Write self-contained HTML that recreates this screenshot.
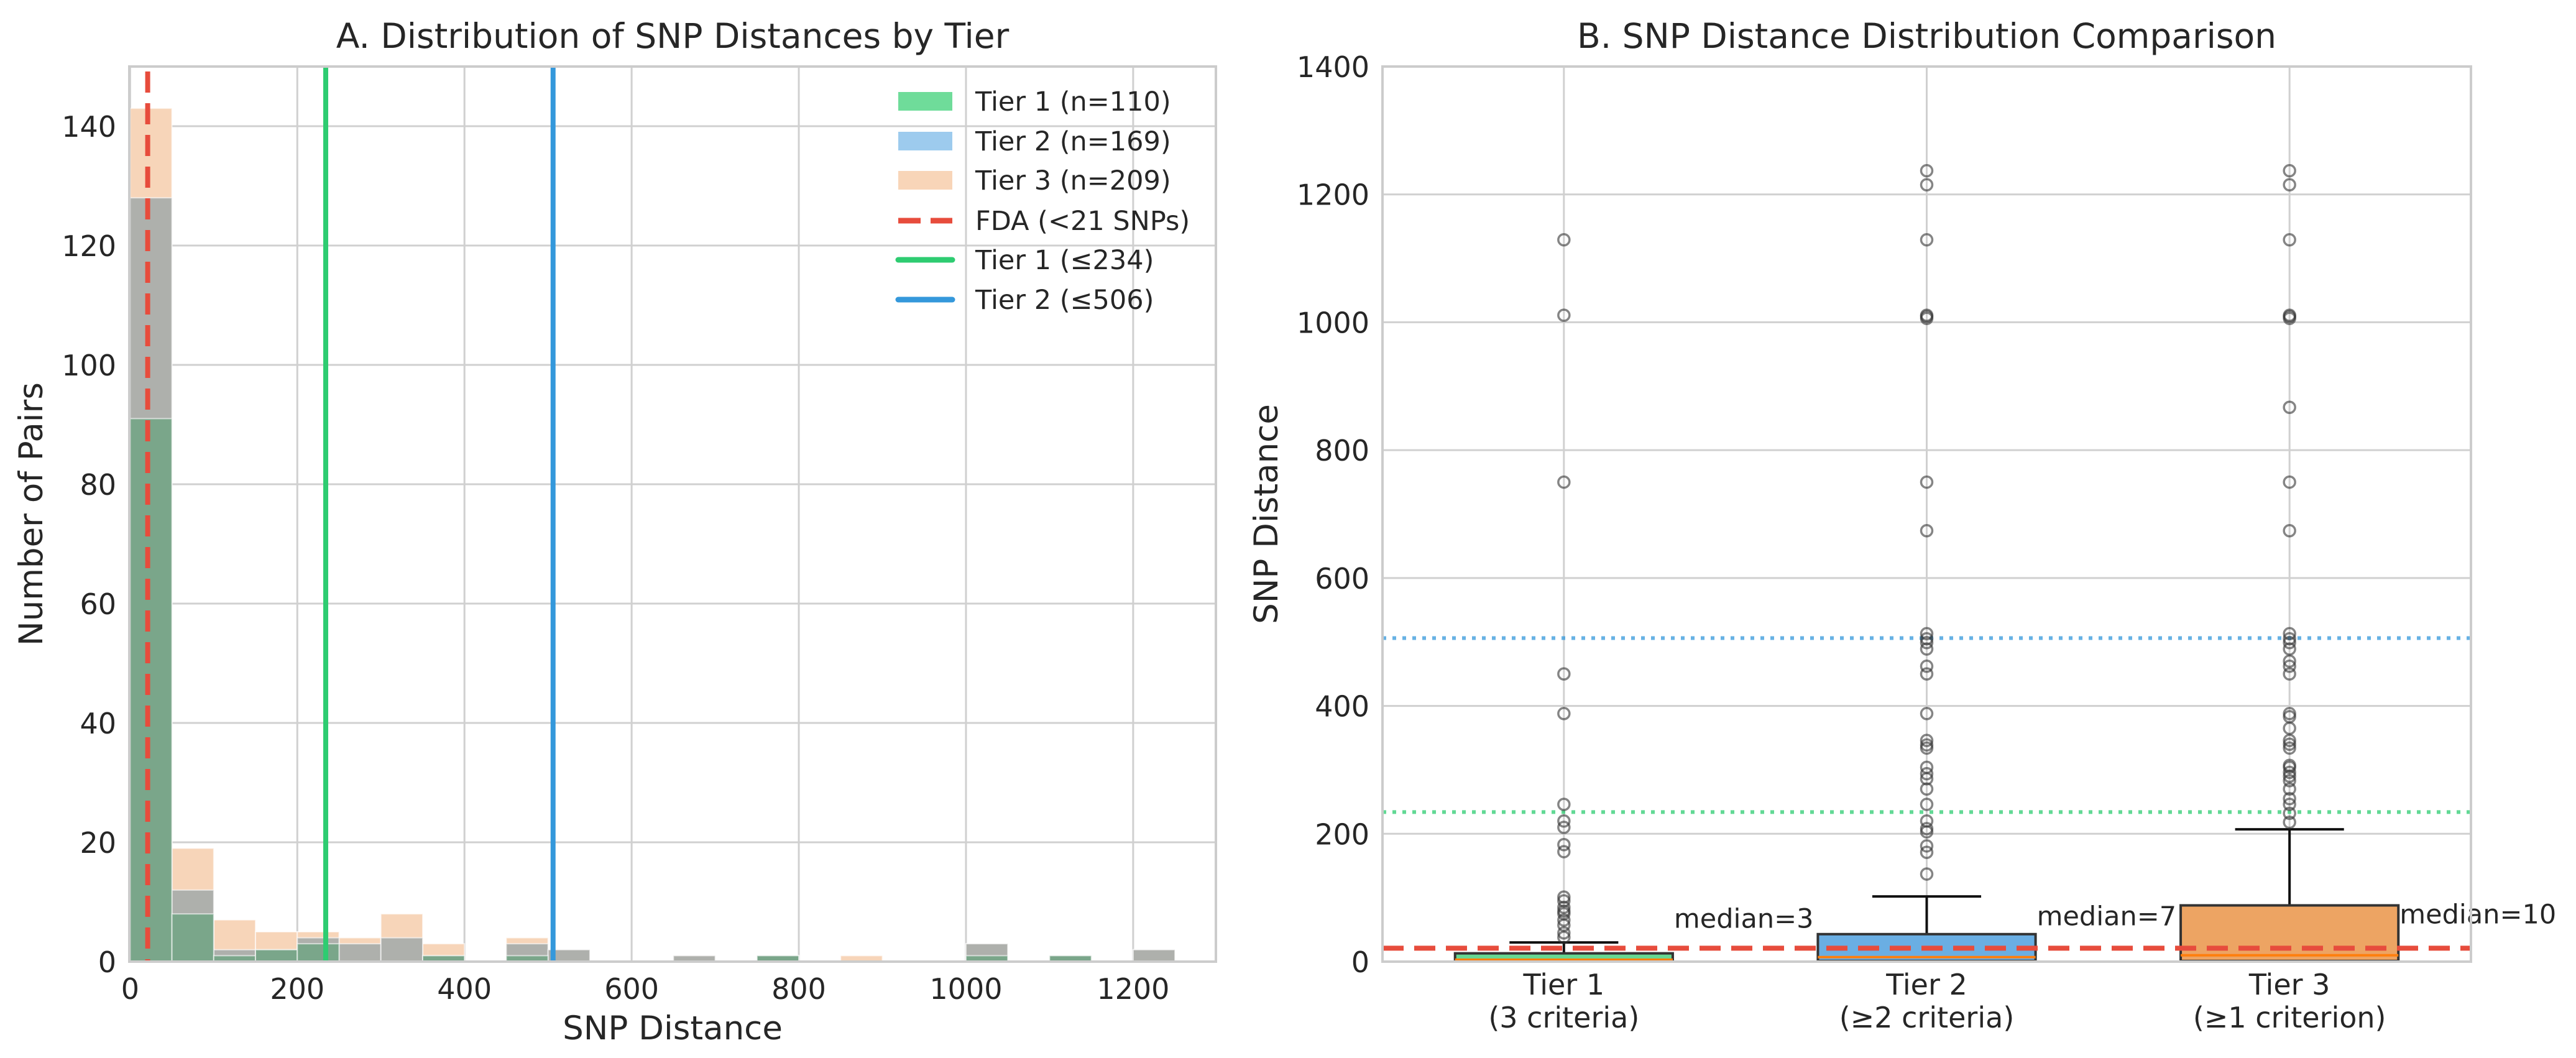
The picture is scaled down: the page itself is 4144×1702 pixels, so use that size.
<!DOCTYPE html>
<html><head><meta charset="utf-8"><style>
html,body{margin:0;padding:0;background:#fff;}
svg{display:block;font-family:"DejaVu Sans","Liberation Sans",sans-serif;}
</style></head><body>
<svg id="fig" width="4144" height="1702" viewBox="0 0 4144 1702" xmlns="http://www.w3.org/2000/svg">
<rect x="0" y="0" width="4144" height="1702" fill="#fff"/>
<g id="left"></g>
<g id="right"></g>
</svg>
<script>
// ---- Panel A data ----
const binStarts = [0,50,100,150,200,250,300,350,400,450,500,550,600,650,700,750,800,850,900,950,1000,1050,1100,1150,1200];
const binWidth = 50;
const tier1Counts = [91,8,1,2,3,0,0,1,0,1,0,0,0,0,0,1,0,0,0,0,1,0,1,0,0];
const tier2Counts = [128,12,2,2,4,3,4,1,0,3,2,0,0,1,0,1,0,0,0,0,3,0,1,0,2];
const tier3Counts = [143,19,7,5,5,4,8,3,0,4,2,0,0,1,0,1,0,1,0,0,3,0,1,0,2];
const histXTicks = [0,200,400,600,800,1000,1200];
const histYTicks = [0,20,40,60,80,100,120,140];
const fdaThreshold = 21;
const tier1Threshold = 234;
const tier2Threshold = 506;
// ---- Panel B data ----
const boxCategories = ["Tier 1","Tier 2","Tier 3"];
const boxSubLabels = ["(3 criteria)","(\u22652 criteria)","(\u22651 criterion)"];
const boxQ1 = [1,1,1];
const boxMedian = [3,7,10];
const boxQ3 = [13,43,88];
const boxWhiskerLow = [0,0,0];
const boxWhiskerHigh = [30,102,207];
const tier1Outliers = [1129,1011,750,450,388,246,220,210,183,172,101,95,85,79,75,65,57,45,38];
const tier2Outliers = [1237,1215,1129,1011,1009,1006,750,674,513,505,499,489,462,450,388,346,339,334,304,294,286,270,246,220,208,203,181,171,137];
const tier3Outliers = [1237,1215,1129,1011,1009,1006,867,750,674,513,505,499,489,470,462,450,388,383,365,346,340,334,307,304,296,290,283,270,255,246,232,218];
const boxYTicks = [0,200,400,600,800,1000,1200,1400];

const NS="http://www.w3.org/2000/svg";
function mk(parent,tag,attrs,text){const e=document.createElementNS(NS,tag);for(const k in attrs)e.setAttribute(k,attrs[k]);if(text!==undefined)e.textContent=text;parent.appendChild(e);return e;}

// ===== Panel A =====
(function(){
const g=document.getElementById('left');
const L=208,R=1956,T=107,B=1547, xmin=-1, xmax=1299, ymin=0, ymax=150;
const sx=v=>L+(v-xmin)/(xmax-xmin)*(R-L);
const sy=v=>B-(v-ymin)/(ymax-ymin)*(B-T);
// grid
histXTicks.forEach(t=>{const l=mk(g,'line',{x1:sx(t),x2:sx(t),y1:T,y2:B,stroke:'#d0d0d0','stroke-width':3});
});
histYTicks.forEach(t=>{const l=mk(g,'line',{x1:L,x2:R,y1:sy(t),y2:sy(t),stroke:'#d0d0d0','stroke-width':3});
});
// bars
const layers=[[tier3Counts,'#f7d5b9','tier3-bar'],[tier2Counts,'#aeb0ac','tier2-bar'],[tier1Counts,'#7aa68a','tier1-bar']];
layers.forEach(([arr,col,nm])=>{
 arr.forEach((c,i)=>{ if(c<=0) return;
  const x0=sx(binStarts[i]), x1=sx(binStarts[i]+binWidth);
  const r=mk(g,'rect',{x:x0,y:sy(c),width:x1-x0,height:sy(0)-sy(c),fill:col,stroke:'#fff','stroke-width':2,'stroke-opacity':0.6});
  
 });
});
// threshold lines
let l=mk(g,'line',{x1:sx(fdaThreshold),x2:sx(fdaThreshold),y1:T+8,y2:B,stroke:'#e74c3c','stroke-width':8,'stroke-dasharray':'34 17'});

l=mk(g,'line',{x1:sx(tier1Threshold),x2:sx(tier1Threshold),y1:T,y2:B,stroke:'#2ecc71','stroke-width':8});

l=mk(g,'line',{x1:sx(tier2Threshold),x2:sx(tier2Threshold),y1:T,y2:B,stroke:'#3498db','stroke-width':8});

// frame
const f=mk(g,'rect',{x:L,y:T,width:R-L,height:B-T,fill:'none',stroke:'#cccccc','stroke-width':4});

// tick labels
histXTicks.forEach(t=>{const e=mk(g,'text',{x:sx(t),y:1607,'font-size':46,'text-anchor':'middle',fill:'#262626'},String(t));
});
histYTicks.forEach(t=>{const e=mk(g,'text',{x:187,y:sy(t)+17,'font-size':46,'text-anchor':'end',fill:'#262626'},String(t));
});
let e=mk(g,'text',{x:(L+R)/2,y:1672,'font-size':53,'text-anchor':'middle',fill:'#262626'},'SNP Distance');

e=mk(g,'text',{x:0,y:0,'font-size':53,'text-anchor':'middle',fill:'#262626',transform:`translate(68 ${(T+B)/2}) rotate(-90)`},'Number of Pairs');

e=mk(g,'text',{x:(L+R)/2,y:77,'font-size':55,'text-anchor':'middle',fill:'#262626'},'A. Distribution of SNP Distances by Tier');

// legend
const lg=mk(g,'g',{});

const items=[['patch','#6fdc9a','Tier 1 (n=110)'],['patch','#9dcbee','Tier 2 (n=169)'],['patch','#f8d5b8','Tier 3 (n=209)'],['dash','#e74c3c','FDA (<21 SNPs)'],['line','#2ecc71','Tier 1 (\u2264234)'],['line','#3498db','Tier 2 (\u2264506)']];
const rowsY=[163,227,290,355,418,482];
items.forEach((it,i)=>{const y=rowsY[i];const en=mk(lg,'g',{});
 
 if(it[0]==='patch') mk(en,'rect',{x:1445,y:y-15,width:87,height:30,fill:it[1]});
 else if(it[0]==='dash') mk(en,'line',{x1:1445,x2:1532,y1:y,y2:y,stroke:it[1],'stroke-width':9,'stroke-dasharray':'36 16'});
 else mk(en,'line',{x1:1445,x2:1532,y1:y,y2:y,stroke:it[1],'stroke-width':9,'stroke-linecap':'round'});
 mk(en,'text',{x:1569,y:y+15,'font-size':43,fill:'#262626'},it[2]);
});
})();

// ===== Panel B =====
(function(){
const g=document.getElementById('right');
const L=2224,R=3975,T=107,B=1547, xmin=0.5,xmax=3.5, ymin=0,ymax=1400;
const sx=v=>L+(v-xmin)/(xmax-xmin)*(R-L);
const sy=v=>B-(v-ymin)/(ymax-ymin)*(B-T);
[1,2,3].forEach(p=>{const l=mk(g,'line',{x1:sx(p),x2:sx(p),y1:T,y2:B,stroke:'#d0d0d0','stroke-width':3});
});
boxYTicks.forEach(t=>{const l=mk(g,'line',{x1:L,x2:R,y1:sy(t),y2:sy(t),stroke:'#d0d0d0','stroke-width':3});
});
let l=mk(g,'line',{x1:L,x2:R,y1:sy(tier2Threshold),y2:sy(tier2Threshold),stroke:'#3498db','stroke-opacity':0.75,'stroke-width':6,'stroke-dasharray':'6 10'});

l=mk(g,'line',{x1:L,x2:R,y1:sy(tier1Threshold),y2:sy(tier1Threshold),stroke:'#2ecc71','stroke-opacity':0.75,'stroke-width':6,'stroke-dasharray':'6 10'});

const fills=['#66d892','#6aaee3','#eda463'];
const outl=[tier1Outliers,tier2Outliers,tier3Outliers];
const bw=0.6, cw=0.3;
boxCategories.forEach((c,i)=>{const p=i+1;
 const bx=mk(g,'g',{});
 mk(bx,'line',{x1:sx(p),x2:sx(p),y1:sy(boxQ3[i]),y2:sy(boxWhiskerHigh[i]),stroke:'#111','stroke-width':4});
 mk(bx,'line',{x1:sx(p-cw/2),x2:sx(p+cw/2),y1:sy(boxWhiskerHigh[i]),y2:sy(boxWhiskerHigh[i]),stroke:'#111','stroke-width':4});
 mk(bx,'rect',{x:sx(p-bw/2),y:sy(boxQ3[i]),width:sx(p+bw/2)-sx(p-bw/2),height:Math.max(2,sy(boxQ1[i])-sy(boxQ3[i])),fill:fills[i],stroke:'#333','stroke-width':4});
 mk(bx,'line',{x1:sx(p-bw/2),x2:sx(p+bw/2),y1:sy(boxMedian[i]),y2:sy(boxMedian[i]),stroke:'#ff7f0e','stroke-width':4});
 outl[i].forEach(v=>{const cc=mk(g,'circle',{cx:sx(p),cy:sy(v),r:9,fill:'none',stroke:'#333','stroke-opacity':0.6,'stroke-width':3.5});
  });
 const t=mk(g,'text',{x:sx(p+bw/2)+2,y:sy(boxMedian[i]+50),'font-size':43,fill:'#262626'},'median='+boxMedian[i]);
 
 const xt=mk(g,'text',{x:sx(p),y:1600,'font-size':46,'text-anchor':'middle',fill:'#262626'},c);
 
 const xs=mk(g,'text',{x:sx(p),y:1653,'font-size':46,'text-anchor':'middle',fill:'#262626'},boxSubLabels[i]);
 
});
l=mk(g,'line',{x1:L,x2:R,y1:sy(fdaThreshold),y2:sy(fdaThreshold),stroke:'#e74c3c','stroke-width':8,'stroke-dasharray':'34 17'});

const f=mk(g,'rect',{x:L,y:T,width:R-L,height:B-T,fill:'none',stroke:'#cccccc','stroke-width':4});

boxYTicks.forEach(t=>{const e=mk(g,'text',{x:2203,y:sy(t)+17,'font-size':46,'text-anchor':'end',fill:'#262626'},String(t));
});
let e=mk(g,'text',{x:0,y:0,'font-size':53,'text-anchor':'middle',fill:'#262626',transform:`translate(2055 ${(T+B)/2}) rotate(-90)`},'SNP Distance');

e=mk(g,'text',{x:(L+R)/2,y:77,'font-size':55,'text-anchor':'middle',fill:'#262626'},'B. SNP Distance Distribution Comparison');

})();
</script>
</body></html>
